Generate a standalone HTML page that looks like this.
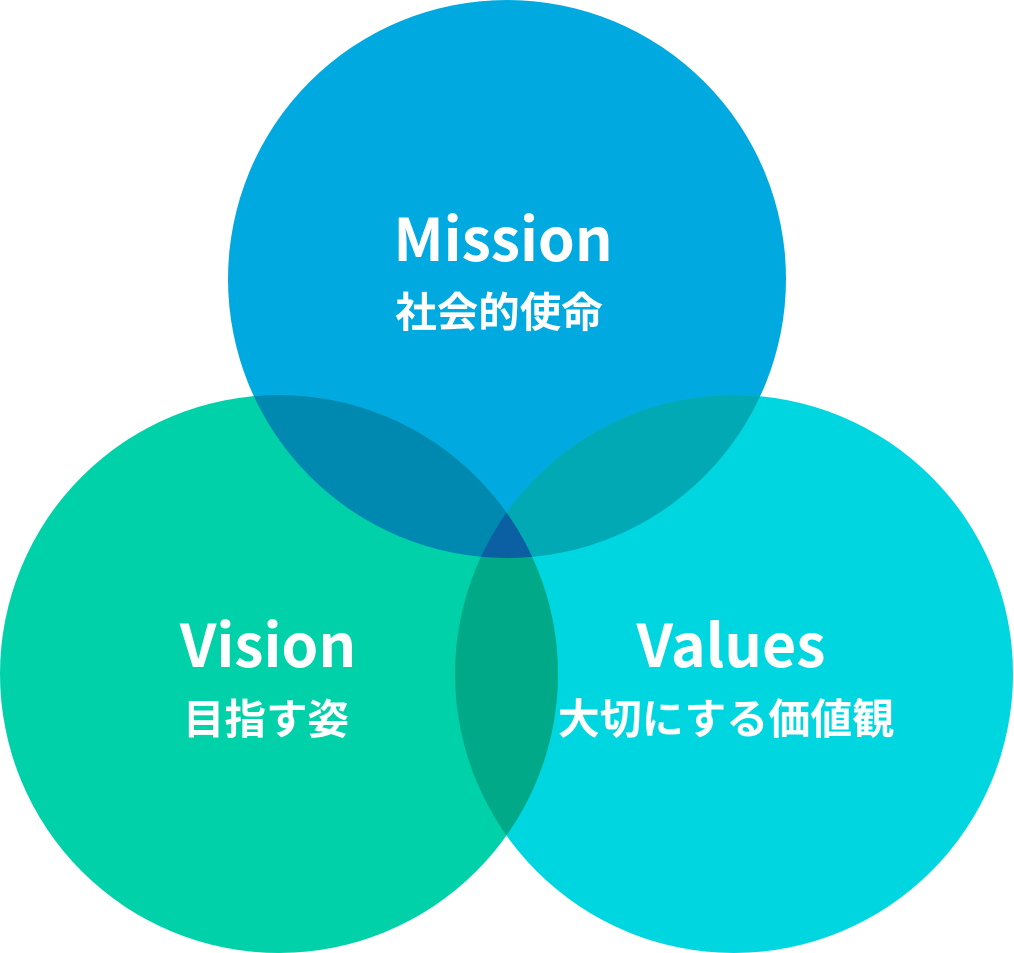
<!DOCTYPE html>
<html>
<head>
<meta charset="utf-8">
<style>
html,body{margin:0;padding:0;background:#fff;}
body{width:1014px;height:953px;overflow:hidden;}
svg{display:block;}
text{font-family:"Noto Sans CJK JP","Liberation Sans",sans-serif;font-weight:700;fill:#fff;}
</style>
</head>
<body>
<svg width="1014" height="953" viewBox="0 0 1014 953" xmlns="http://www.w3.org/2000/svg">
  <defs>
    <clipPath id="cM"><circle cx="507" cy="279" r="279"/></clipPath>
    <clipPath id="cVi"><circle cx="279" cy="674" r="279"/></clipPath>
    <clipPath id="cVa"><circle cx="734" cy="674" r="279"/></clipPath>
  </defs>
  <!-- base circles -->
  <circle cx="507" cy="279" r="279" fill="#00A9DF"/>
  <circle cx="279" cy="674" r="279" fill="#00D1A9"/>
  <circle cx="734" cy="674" r="279" fill="#00D6E0"/>
  <!-- pairwise overlaps -->
  <circle cx="279" cy="674" r="279" fill="#0089B0" clip-path="url(#cM)"/>
  <circle cx="734" cy="674" r="279" fill="#00A9B3" clip-path="url(#cM)"/>
  <circle cx="734" cy="674" r="279" fill="#00A987" clip-path="url(#cVi)"/>
  <!-- triple overlap -->
  <g clip-path="url(#cM)">
    <circle cx="734" cy="674" r="279" fill="#0A60A3" clip-path="url(#cVi)"/>
  </g>

  <!-- labels -->
  <text x="503" y="261" text-anchor="middle" font-size="59">Mission</text>
  <text x="499" y="327" text-anchor="middle" font-size="41.5">社会的使命</text>

  <text x="268" y="667" text-anchor="middle" font-size="59">Vision</text>
  <text x="266" y="734" text-anchor="middle" font-size="41.5">目指す姿</text>

  <text x="731" y="667" text-anchor="middle" font-size="59">Values</text>
  <text x="726" y="734" text-anchor="middle" font-size="42">大切にする価値観</text>
</svg>
</body>
</html>
